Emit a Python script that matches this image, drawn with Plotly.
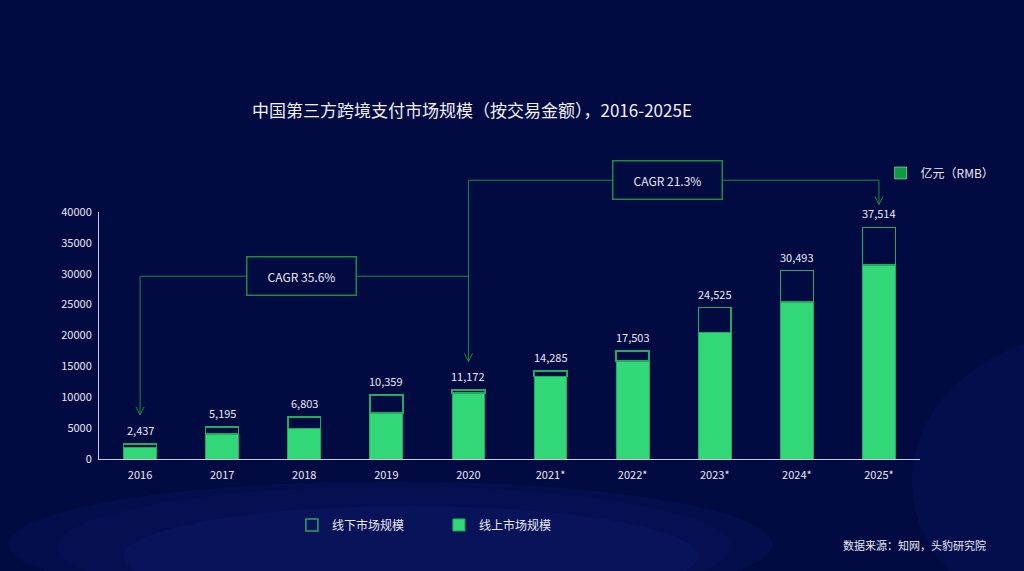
import plotly.graph_objects as go

# ---- data ----
years = ["2016", "2017", "2018", "2019", "2020", "2021*", "2022*", "2023*", "2024*", "2025*"]
total = [2437, 5195, 6803, 10359, 11172, 14285, 17503, 24525, 30493, 37514]
online = [1850, 4050, 4950, 7450, 10650, 13400, 15900, 20500, 25450, 31400]
offline = [t - o for t, o in zip(total, online)]
cagr_labels = ["CAGR 35.6%", "CAGR 21.3%"]

title = "中国第三方跨境支付市场规模（按交易金额），2016-2025E"
unit_name = "亿元（RMB）"
source = "数据来源：知网，头豹研究院"

FONT = "Noto Sans CJK SC"
BG = "#020a42"
GREEN = "#32d877"
EDGE = "#26a862"
LINE_G = "#1f8a3e"
TXT = "#e8e8f4"
N = len(years)
YMAX = 40000

fig = go.Figure()
fig.add_trace(go.Bar(
    x=years, y=online, name="线上市场规模",
    marker=dict(color=GREEN, line=dict(color=EDGE, width=1)),
    width=0.4, legend="legend",
))
fig.add_trace(go.Bar(
    x=years, y=offline, name="线下市场规模",
    marker=dict(color="rgba(0,0,0,0)", line=dict(color=EDGE, width=1.5)),
    width=0.4, legend="legend",
))
fig.add_trace(go.Bar(
    x=[None], y=[None], name=unit_name,
    marker=dict(color="#0c9c3c"), legend="legend2", showlegend=True,
))

def xp(i):
    return (i + 0.5) / N

def yp(v):
    return v / YMAX

shapes = []
# decorative background ellipses (bottom)
for (x0, x1, y0, y1, c) in [
    (-0.11, 0.82, -0.60, -0.09, "rgba(40,60,170,0.10)"),
    (-0.05, 0.77, -0.60, -0.11, "rgba(10,20,100,0.25)"),
    (0.03, 0.73, -0.60, -0.19, "rgba(40,60,170,0.10)"),
    (0.17, 0.64, -0.60, -0.27, "rgba(10,20,90,0.30)"),
]:
    shapes.append(dict(type="circle", xref="paper", yref="paper",
                       x0=x0, x1=x1, y0=y0, y1=y1, fillcolor=c,
                       line=dict(width=0), layer="below"))
# right side sphere hint
shapes.append(dict(type="circle", xref="paper", yref="paper",
                   x0=0.99, x1=1.45, y0=-0.70, y1=0.52,
                   fillcolor="rgba(40,60,170,0.10)", line=dict(width=0), layer="below"))

ax_w, ax_h = 821.0, 247.0
hw, hh = 4 / ax_w, 8 / ax_h

def vline(i, ytop, ybot):
    shapes.append(dict(type="line", xref="paper", yref="paper",
                       x0=xp(i), x1=xp(i), y0=yp(ytop), y1=yp(ybot),
                       line=dict(color=LINE_G, width=1)))
    shapes.append(dict(type="path", xref="paper", yref="paper",
                       path=f"M{xp(i)-hw},{yp(ybot)+hh} L{xp(i)},{yp(ybot)} L{xp(i)+hw},{yp(ybot)+hh}",
                       line=dict(color=LINE_G, width=1)))

def hline(i0, i1, y):
    shapes.append(dict(type="line", xref="paper", yref="paper",
                       x0=xp(i0), x1=xp(i1), y0=yp(y), y1=yp(y),
                       line=dict(color=LINE_G, width=1)))

L1, L2 = 29600, 45150
hline(0, 4, L1)
vline(0, L1, total[0] + 4700)
hline(4, 9, L2)
vline(4, L2, total[4] + 4600)
vline(9, L2, total[9] + 3700)

annotations = [
    dict(text=cagr_labels[0], xref="paper", yref="paper", x=(1.97 + 0.5) / N, y=yp(L1),
         xanchor="center", yanchor="middle",
         showarrow=False, font=dict(color=TXT, size=12, family=FONT),
         bgcolor=BG, bordercolor=LINE_G, borderwidth=1.5, width=106, height=35),
    dict(text=cagr_labels[1], xref="paper", yref="paper", x=(6.42 + 0.5) / N, y=yp(L2),
         xanchor="center", yanchor="middle",
         showarrow=False, font=dict(color=TXT, size=12, family=FONT),
         bgcolor=BG, bordercolor=LINE_G, borderwidth=1.5, width=106, height=35),
    dict(text=title, xref="paper", yref="paper", x=0.454, y=1.413,
         xanchor="center", yanchor="middle",
         showarrow=False, font=dict(color="#f0f0f8", size=17, family=FONT)),
    dict(text=source, xref="paper", yref="paper", x=1.083, y=-0.348,
         xanchor="right", yanchor="middle",
         showarrow=False, font=dict(color=TXT, size=11, family=FONT)),
]
# total value labels above each bar
for i, v in enumerate(total):
    annotations.append(dict(text=f"{v:,}", x=xp(i), y=v, xref="paper", yref="y",
                            yshift=14, xanchor="center", yanchor="middle",
                            showarrow=False, font=dict(color=TXT, size=11, family=FONT)))

fig.update_layout(
    width=1024, height=571,
    margin=dict(l=99, r=104, t=212, b=112),
    paper_bgcolor=BG, plot_bgcolor="rgba(0,0,0,0)",
    barmode="stack", bargap=0.6,
    font=dict(family=FONT, color=TXT, size=11),
    showlegend=True,
    legend=dict(orientation="h", x=0.235, y=-0.267, xanchor="left", yanchor="middle",
                traceorder="reversed", entrywidth=102, itemwidth=30,
                font=dict(size=12, color=TXT, family=FONT), bgcolor="rgba(0,0,0,0)"),
    legend2=dict(orientation="h", x=0.952, y=1.158, xanchor="left", yanchor="middle",
                 itemwidth=30,
                 font=dict(size=12, color=TXT, family=FONT), bgcolor="rgba(0,0,0,0)"),
    xaxis=dict(type="category", range=[-0.5, N - 0.5], showgrid=False, showline=True,
               linecolor="#c8c8dc", linewidth=1, ticks="", ticklabelstandoff=6,
               tickfont=dict(size=11, color=TXT, family=FONT), fixedrange=True),
    yaxis=dict(range=[0, YMAX], dtick=5000, tickformat="d", showgrid=False, showline=True,
               linecolor="#c8c8dc", linewidth=1, ticks="", ticklabelstandoff=4, zeroline=False,
               tickfont=dict(size=11, color=TXT, family=FONT), fixedrange=True),
    shapes=shapes, annotations=annotations,
)

fig.write_html("out.html", config={"displayModeBar": False},
               post_script="document.body.style.margin='0';document.body.style.overflow='hidden';document.body.style.background='%s';" % BG)
